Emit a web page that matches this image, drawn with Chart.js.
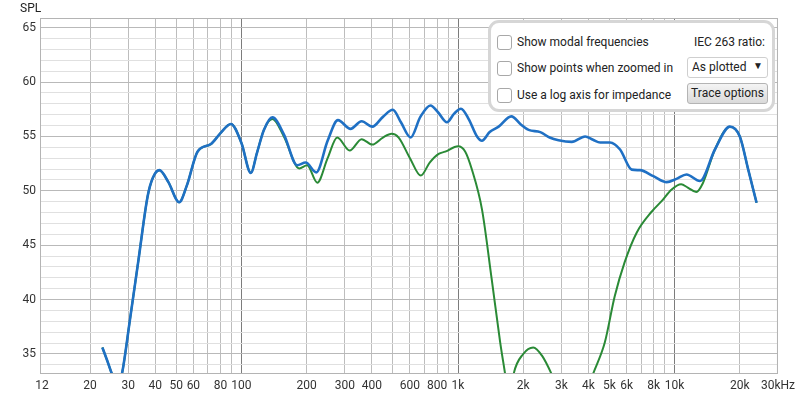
<!DOCTYPE html>
<html>
<head>
<meta charset="utf-8">
<script src="https://cdn.jsdelivr.net/npm/chart.js@4.4.1/dist/chart.umd.min.js"></script>
<style>
  body { margin:0; background:#fff; font-family:Roboto, "Noto Sans", sans-serif; }
  #wrap { position:relative; width:800px; height:399px; }
  canvas { position:absolute; left:0; top:0; }
  .txt { position:absolute; font-size:12px; color:#222; white-space:nowrap; line-height:14px; }
  .box { position:absolute; width:13px; height:13px; border:1px solid #a8a8a8; border-radius:3px; background:#fff; }
  #panel { position:absolute; left:488px; top:20px; width:287px; height:92px; box-sizing:border-box;
           border:3px solid #d6d6d6; border-radius:11px; background:#fff; }
  #drop { position:absolute; left:687px; top:57px; width:81px; height:21px; box-sizing:border-box;
          border:1px solid #cfcfcf; border-radius:3px; background:#fff; }
  #btn { position:absolute; left:687px; top:83px; width:81px; height:21px; box-sizing:border-box;
         border:1px solid #b4b4b4; border-radius:3px; background:linear-gradient(#f4f4f4,#dadada); }
</style>
</head>
<body>
<div id="wrap">
  <canvas id="myChart" width="800" height="399"></canvas>
  <div class="txt" style="left:20px;top:1px;">SPL</div>
  <div id="panel"></div>
  <div class="box" style="left:497px;top:35px;"></div>
  <div class="txt" style="left:517px;top:35px;">Show modal frequencies</div>
  <div class="box" style="left:497px;top:61px;"></div>
  <div class="txt" style="left:517px;top:61px;">Show points when zoomed in</div>
  <div class="box" style="left:497px;top:88px;"></div>
  <div class="txt" style="left:517px;top:88px;">Use a log axis for impedance</div>
  <div class="txt" style="left:660px;width:105px;text-align:right;top:35px;">IEC 263 ratio:</div>
  <div id="drop"></div>
  <div class="txt" style="left:692px;top:60px;">As plotted</div>
  <div class="txt" style="left:753px;top:59px;font-size:10px;">&#9660;</div>
  <div id="btn"></div>
  <div class="txt" style="left:687px;width:81px;text-align:center;top:86px;">Trace options</div>
</div>
<script>
// frequency response traces (Hz, dB SPL)
var blueFreq = [22.8, 24.0, 25.2, 26.9, 28.1, 30.6, 33.5, 36.9, 39, 41.8, 46, 51.6, 56, 62.7, 72.3, 80, 89.4, 100, 110.5, 118, 127,
  139, 157, 181, 198, 221.6, 250, 279, 319, 359, 402, 450, 500, 545, 604, 670, 746, 810, 889, 960, 1032, 1120, 1224, 1290,
  1400, 1540, 1762, 1950, 2118, 2398, 2650, 2911, 3351, 3862, 4200, 4530, 5036, 5600, 6337, 6925, 7980, 9190, 10200, 11350,
  13090, 15350, 17990, 20000, 21870, 23900];
var blueSpl = [35.6, 34.4, 33.2, 32.0, 33.2, 38.2, 43.7, 49.5, 51.2, 51.9, 50.8, 48.95, 50.5, 53.6, 54.3, 55.3, 56.15, 54.4, 51.65, 53.5, 55.6,
  56.75, 55.2, 52.35, 52.6, 51.7, 54.6, 56.5, 55.7, 56.4, 55.9, 56.8, 57.45, 56.3, 54.9, 56.8, 57.85, 57.2, 56.3, 57.1, 57.55, 56.6, 55.0, 54.6,
  55.4, 55.9, 56.85, 56.1, 55.6, 55.4, 54.9, 54.65, 54.5, 55.0, 54.7, 54.45, 54.45, 53.8, 51.95, 51.9, 51.35, 50.8, 51.1, 51.5,
  50.9, 53.8, 55.9, 55.0, 51.95, 48.9];

var greenFreq = [22.8, 24.0, 25.2, 26.9, 28.1, 30.6, 33.5, 36.9, 39, 41.8, 46, 51.6, 56, 62.7, 72.3, 80, 89.4, 100, 110.5, 118, 127,
  139, 157, 185, 201, 224, 250, 277, 316, 359, 402, 450, 494, 532, 600, 673, 740, 814, 873, 1000, 1080, 1157, 1290, 1430, 1566,
  1650, 1725, 1805, 2000, 2225, 2450, 2705, 3000, 3350, 3750, 4200, 4760, 5290, 5870, 6680, 7850, 8710, 9660, 10720, 11500,
  12590, 13500, 15350, 17990, 20000, 21870, 23900];
var greenSpl = [35.6, 34.4, 33.2, 32.0, 33.2, 38.2, 43.7, 49.5, 51.2, 51.9, 50.8, 48.95, 50.5, 53.6, 54.3, 55.3, 56.15, 54.4, 51.65, 53.5, 55.6,
  56.6, 55.0, 52.05, 52.35, 50.75, 53.0, 54.9, 53.7, 54.75, 54.25, 54.9, 55.25, 54.9, 53.0, 51.4, 52.6, 53.4, 53.6, 54.1, 53.6, 52.0, 48.3, 41.9, 36.05,
  33.15, 30.5, 33.15, 35.0, 35.6, 34.8, 33.15, 31.0, 29.0, 30.3, 33.15, 36.05, 40.3, 43.4, 46.15, 48.1, 49.05, 50.1, 50.6, 50.3,
  49.9, 50.7, 53.8, 55.9, 55.0, 51.95, 48.9];

// axis ticks
var xGridValues = [12, 20, 30, 40, 50, 60, 70, 80, 90, 100, 200, 300, 400, 500, 600, 700, 800, 900,
  1000, 2000, 3000, 4000, 5000, 6000, 7000, 8000, 9000, 10000, 20000, 30000];
var xLabelValues = [12, 20, 30, 40, 50, 60, 80, 100, 200, 300, 400, 600, 800, 1000, 2000, 3000, 4000, 5000, 6000, 8000, 10000, 20000, 30000];
var xLabelText = ['12', '20', '30', '40', '50', '60', '80', '100', '200', '300', '400', '600', '800', '1k', '2k', '3k', '4k', '5k', '6k', '8k', '10k', '20k', '30kHz'];
var decades = [100, 1000, 10000];
var xMin = 11.75, xMax = 30000;
var yMin = 33.16, yMax = 65.89;
var yGridValues = [];
for (var v = 34; v <= 65; v++) yGridValues.push(v);

function toPoints(fs, vals) {
  var pts = [];
  for (var i = 0; i < fs.length; i++) pts.push({x: fs[i], y: vals[i]});
  return pts;
}

var frame = {
  id: 'frame',
  afterDraw: function(chart) {
    var a = chart.chartArea, c = chart.ctx;
    c.save();
    c.strokeStyle = '#b4b4b4';
    c.lineWidth = 1;
    c.strokeRect(a.left + 0.5, a.top + 0.5, a.right - a.left - 1, a.bottom - a.top - 1);
    c.restore();
  }
};

var ctx = document.getElementById('myChart');
var myChart = new Chart(ctx, {
  type: 'line',
  data: {
    datasets: [{
      data: toPoints(blueFreq, blueSpl),
      borderColor: '#1f70c4',
      borderWidth: 2.6,
      pointRadius: 0,
      cubicInterpolationMode: 'monotone',
      clip: 0
    }, {
      data: toPoints(greenFreq, greenSpl),
      borderColor: '#2a8a36',
      borderWidth: 2,
      pointRadius: 0,
      cubicInterpolationMode: 'monotone',
      clip: 0
    }]
  },
  options: {
    responsive: false,
    animation: false,
    layout: { padding: { left: 0, right: 20, top: 18, bottom: 0 } },
    plugins: { legend: { display: false }, tooltip: { enabled: false } },
    scales: {
      x: {
        type: 'logarithmic',
        min: xMin,
        max: xMax,
        afterBuildTicks: function(scale) {
          scale.ticks = xGridValues.map(function(v) { return {value: v}; });
        },
        afterFit: function(scale) { scale.height = 25; },
        border: { display: false },
        grid: {
          drawTicks: false,
          color: function(c) {
            if (c.tick.value === 12) return 'rgba(0,0,0,0)'; // edge label only
            return decades.indexOf(c.tick.value) >= 0 ? '#7c7c7c' : '#bdbdbd';
          }
        },
        ticks: {
          autoSkip: false,
          maxRotation: 0,
          minRotation: 0,
          padding: 5,
          color: '#333',
          font: { family: 'Roboto', size: 12 },
          callback: function(value) {
            var i = xLabelValues.indexOf(value);
            return i >= 0 ? xLabelText[i] : '';
          }
        }
      },
      y: {
        min: yMin,
        max: yMax,
        afterBuildTicks: function(scale) {
          scale.ticks = yGridValues.map(function(v) { return {value: v}; });
        },
        afterFit: function(scale) { scale.width = 40; },
        border: { display: false },
        grid: {
          drawTicks: false,
          color: function(c) {
            return c.tick.value % 5 === 0 ? '#b9b9b9' : '#e0e0e0';
          }
        },
        ticks: {
          autoSkip: false,
          padding: 4,
          color: '#333',
          font: { family: 'Roboto', size: 12 },
          callback: function(value) { return value % 5 === 0 ? String(value) : ''; }
        }
      }
    }
  },
  plugins: [frame]
});
</script>
</body>
</html>
